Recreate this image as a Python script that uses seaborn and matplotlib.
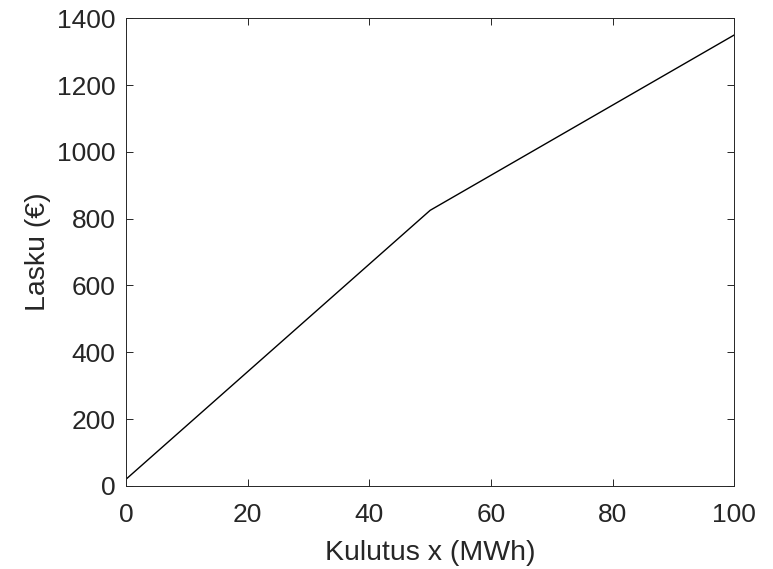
import matplotlib
matplotlib.use("Agg")
import matplotlib.pyplot as plt
import seaborn as sns
import pandas as pd

kulutus = [0, 50, 100]
lasku = [20, 825, 1350]
x_ticks = [0, 20, 40, 60, 80, 100]
y_ticks = [0, 200, 400, 600, 800, 1000, 1200, 1400]

sns.set_theme(style="ticks")
plt.rcParams['font.family'] = ['Liberation Sans', 'DejaVu Sans']

df = pd.DataFrame({"x": kulutus, "y": lasku})
fig = plt.figure(figsize=(7.73, 5.69), dpi=100)
ax = fig.add_axes([0.163, 0.146, 0.787, 0.822])
sns.lineplot(data=df, x="x", y="y", ax=ax, color="black", linewidth=1.0)
ax.set_xlim(0, 100)
ax.set_ylim(0, 1400)
ax.set_xticks(x_ticks)
ax.set_yticks(y_ticks)
ax.tick_params(direction="in", length=5, width=0.7, labelsize=19, colors="#262626",
               top=True, right=True)
ax.tick_params(axis="y", pad=7.5)
ax.tick_params(axis="x", pad=12.5)
for s in ax.spines.values():
    s.set_color("#262626")
    s.set_linewidth(0.7)
ax.set_xlabel("Kulutus x (MWh)", fontsize=20.5, color="#262626", labelpad=9)
ax.set_ylabel("Lasku (€)", fontsize=20.5, color="#262626", labelpad=4)
fig.savefig("out.png", dpi=100)
